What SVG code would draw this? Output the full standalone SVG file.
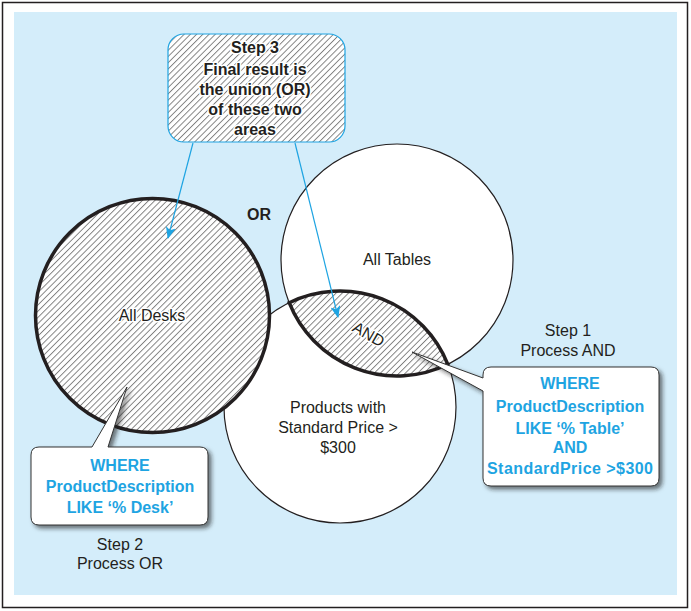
<svg xmlns="http://www.w3.org/2000/svg" width="691" height="611" viewBox="0 0 691 611">
<defs>
<pattern id="hatch" patternUnits="userSpaceOnUse" width="4.4" height="4.4" patternTransform="rotate(45)">
<rect width="4.4" height="4.4" fill="#fff"/>
<line x1="0.5" y1="0" x2="0.5" y2="4.4" stroke="#444" stroke-width="0.65"/>
</pattern>
<marker id="arr" viewBox="0 0 12 10" refX="11" refY="5" markerWidth="12" markerHeight="10" markerUnits="userSpaceOnUse" orient="auto">
<path d="M0,0 L12,5 L0,10 L3,5 Z" fill="#1ea4e2"/>
</marker>
<filter id="shadow" x="-20%" y="-20%" width="140%" height="140%">
<feDropShadow dx="3" dy="3" stdDeviation="2" flood-color="#222" flood-opacity="0.6"/>
</filter>
</defs>
<style>
.t{font-family:"Liberation Sans",Arial,sans-serif;font-size:16px;fill:#231f20;text-anchor:middle}
.b{font-weight:bold}
.q{font-family:"Liberation Sans",Arial,sans-serif;font-size:16px;font-weight:bold;fill:#1ea4e2;text-anchor:middle}
.halo{stroke:#fff;stroke-width:3;paint-order:stroke;stroke-linejoin:round}
.thin{stroke:#231f20;stroke-width:1.2}
.thick{stroke:#231f20;stroke-width:3.5}
.conn{stroke:#1ea4e2;stroke-width:1.2;fill:none}
.bubble{fill:#fff;stroke:#333;stroke-width:1;filter:url(#shadow)}
</style>
<rect x="2.5" y="2.5" width="685" height="605" fill="#fff" stroke="#231f20" stroke-width="1.5"/>
<rect x="14" y="12" width="663" height="583" fill="#d4edfa"/>

<g id="products">
<circle cx="340" cy="407" r="116" fill="#fff" class="thin"/>
<text class="t" x="338" y="413">Products with</text>
<text class="t" x="338" y="433">Standard Price &gt;</text>
<text class="t" x="338" y="453">$300</text>
</g>
<g id="tables">
<circle cx="397" cy="260" r="116" fill="#fff" class="thin"/>
<text class="t" x="397" y="265">All Tables</text>
</g>
<g id="desks">
<circle cx="152.5" cy="315.5" r="117" fill="url(#hatch)" class="thick"/>
<text class="t halo" x="152" y="321">All Desks</text>
</g>
<g id="and-area">
<path d="M289.2,302.7 A116,116 0 0 1 447.8,364.3 A116,116 0 0 1 289.2,302.7 Z" fill="url(#hatch)" class="thick"/>
<text class="t halo" x="0" y="0" font-size="16" transform="translate(366,339) rotate(30)">AND</text>
</g>
<g id="or-label">
<text class="t b" x="259" y="220" font-size="17">OR</text>
</g>
<g id="step3">
<rect x="168" y="34" width="177" height="108" rx="16" fill="url(#hatch)" stroke="#1ea4e2" stroke-width="1.2"/>
<text class="t b halo" x="255" y="53">Step 3</text>
<text class="t b halo" x="255" y="75">Final result is</text>
<text class="t b halo" x="255" y="95">the union (OR)</text>
<text class="t b halo" x="255" y="115">of these two</text>
<text class="t b halo" x="255" y="135">areas</text>
</g>
<g id="step1">
<text class="t" x="568" y="336">Step 1</text>
<text class="t" x="568" y="356">Process AND</text>
</g>
<g id="where-and">
<path class="bubble" d="M491,367 H651 Q659,367 659,375 V478 Q659,486 651,486 H491 Q483,486 483,478 V391 L412,352 L483,378 V375 Q483,367 491,367 Z"/>
<text class="q" x="570" y="389">WHERE</text>
<text class="q" x="570" y="412">ProductDescription</text>
<text class="q" x="570" y="434">LIKE ‘% Table’</text>
<text class="q" x="570" y="453">AND</text>
<text class="q" x="570" y="474" textLength="166">StandardPrice &gt;$300</text>
</g>
<g id="where-or">
<path class="bubble" d="M39,447 H92 L127,387 L108,447 H200 Q208,447 208,455 V517 Q208,525 200,525 H39 Q31,525 31,517 V455 Q31,447 39,447 Z"/>
<text class="q" x="120" y="471">WHERE</text>
<text class="q" x="120" y="492">ProductDescription</text>
<text class="q" x="120" y="513">LIKE ‘% Desk’</text>
</g>
<g id="step2">
<text class="t" x="120" y="550">Step 2</text>
<text class="t" x="120" y="569">Process OR</text>
</g>
<g id="connectors">
<line class="conn" x1="193" y1="143" x2="168" y2="238" marker-end="url(#arr)"/>
<line class="conn" x1="295" y1="143" x2="338" y2="317" marker-end="url(#arr)"/>
</g>
</svg>
